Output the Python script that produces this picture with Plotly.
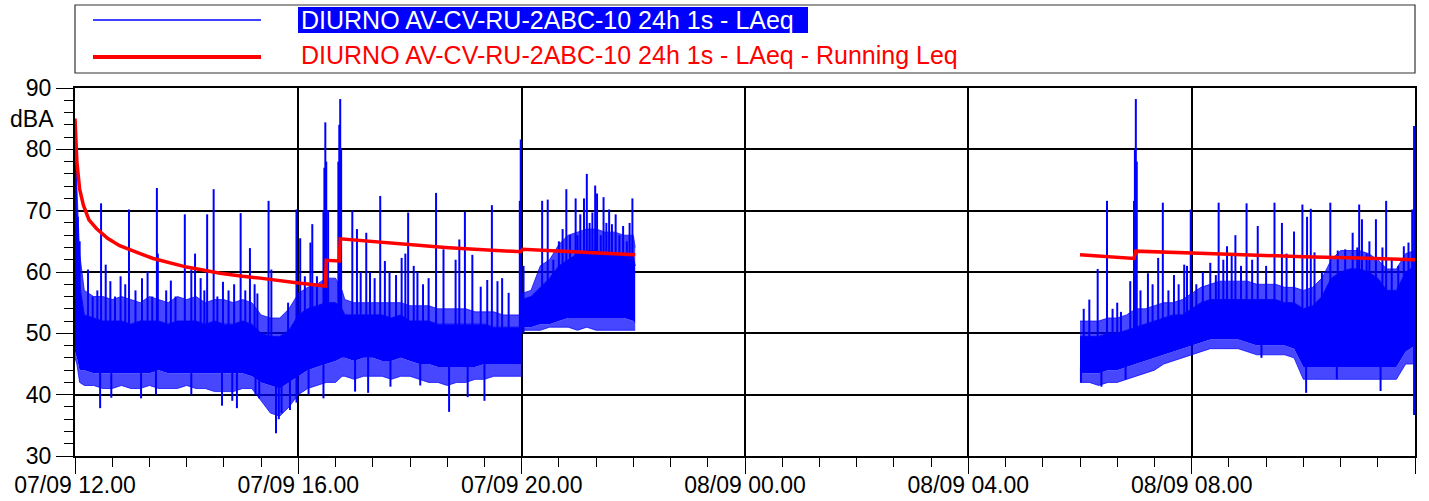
import numpy as np
import pandas as pd
import plotly.graph_objects as go

DAY1, DAY2 = "2021-09-07", "2021-09-08"

# ---------------- Segment 1 (07/09 12:00 - 22:02): LAeq 1s, read as envelopes ----------------
# fr_lo / fr_hi : outer (sparse) fringe of the 1 s trace;  lo / hi : dense core
s1_time = ["12:00", "12:02", "12:05", "12:10", "12:20", "12:30", "12:40", "12:50",
           "13:00", "13:10", "13:20", "13:30", "13:40", "13:50",
           "14:00", "14:10", "14:20", "14:30", "14:40", "14:50",
           "15:00", "15:10", "15:20", "15:30", "15:40", "15:50",
           "16:00", "16:10", "16:20", "16:30", "16:40", "16:47", "16:50",
           "17:00", "17:10", "17:20", "17:30", "17:40", "17:50",
           "18:00", "18:10", "18:20", "18:30", "18:40", "18:50",
           "19:00", "19:10", "19:20", "19:30", "19:40", "19:50",
           "20:00", "20:00", "20:10", "20:20", "20:30", "20:40", "20:50",
           "21:00", "21:10", "21:20", "21:30", "21:40", "21:50",
           "22:00", "22:02"]
s1_frlo = [46, 45, 42, 41.5, 41.5, 41, 41, 41.5,
           41, 41, 41.5, 41, 41, 41,
           41.5, 41, 41, 40.5, 40.5, 40.5,
           41, 41, 39, 37, 36.5, 38,
           40, 41, 41.5, 42, 42, 43, 43,
           42.5, 43, 43, 43, 42.5, 43,
           43, 42.5, 42, 42, 41.5, 42,
           42, 42.5, 42.5, 43, 43, 43,
           43, 50.5, 50.5, 50.5, 51, 51, 51,
           50.5, 51, 50.5, 50.5, 50.5, 50.5,
           50.5, 50.5]
s1_lo = [47, 46, 44, 44, 43.5, 43.5, 43.5, 43.5,
         43.5, 43.5, 43.5, 44, 43.5, 43.5,
         43.5, 43.5, 43.5, 43.5, 43.5, 43.5,
         43.5, 43, 42, 41.5, 41, 42,
         43, 44, 44.5, 45, 45.5, 46, 46,
         45.5, 46, 46, 45.5, 45.5, 46,
         45.5, 45, 45, 44.5, 44.5, 44.5,
         44.5, 44.5, 45, 45, 45, 45,
         45, 51, 51, 51.5, 51.5, 52, 52.5,
         52.5, 52.5, 52.5, 52.5, 52.5, 52.5,
         52, 51.5]
s1_hi = [85, 70, 58, 53, 52.5, 52, 52, 52,
         51.5, 52, 52, 52, 51.5, 52,
         52, 52, 51.5, 52, 51.5, 51.5,
         52, 51.5, 50, 49.5, 49.5, 50.5,
         53, 54, 54.5, 55, 55, 54, 53,
         53, 53, 53, 53, 52.5, 53,
         52, 52, 52, 51.5, 51.5, 51.5,
         51.5, 51.5, 51.5, 51, 51, 51,
         51, 55.5, 56, 57.5, 59, 61, 62,
         63, 63.5, 63.5, 63, 63, 62.5,
         62.5, 61]
s1_frhi = [85, 74, 63, 57, 56, 56, 55.5, 56,
           55.5, 55, 56, 55.5, 55, 56,
           55.5, 56, 55, 55.5, 55.5, 55,
           55.5, 55, 53, 52.5, 52.5, 54,
           56.5, 57.5, 58, 59, 59, 57, 55.5,
           55, 55, 55, 55, 55, 55,
           54.5, 54.5, 54.5, 54, 54, 54,
           54, 53.5, 53.5, 53.5, 53, 53,
           53, 56.5, 57, 61, 62, 64.5, 66,
           66.5, 67, 67, 66.5, 66.5, 66,
           66, 64]

# isolated spikes (time, peak dBA)
sp1_time = ["12:03", "12:05", "12:07", "12:14", "12:19", "12:24", "12:28", "12:33", "12:38", "12:43",
            "12:49", "12:54", "12:58", "13:05", "13:12", "13:18", "13:23", "13:28", "13:29", "13:38",
            "13:43", "13:48", "13:58", "14:05", "14:09", "14:15", "14:19", "14:22", "14:29", "14:33",
            "14:39", "14:45", "14:51", "14:58", "15:03", "15:08", "15:13", "15:16", "15:28", "15:31",
            "15:49", "15:58", "16:02", "16:07", "16:13", "16:15", "16:20", "16:27", "16:28", "16:29",
            "16:30", "16:32", "16:43", "16:44", "16:45", "16:46", "16:58", "17:03", "17:07", "17:13",
            "17:17", "17:22", "17:28", "17:33", "17:38", "17:45", "17:51", "17:55", "17:58", "18:04",
            "18:08", "18:14", "18:20", "18:28", "18:36", "18:49", "18:53", "18:59", "19:07", "19:16",
            "19:23", "19:28", "19:34", "19:39", "19:46", "19:58", "19:59", "20:02", "20:22", "20:28",
            "20:34", "20:40", "20:44", "20:48", "20:52", "20:58", "21:00", "21:03", "21:07", "21:10",
            "21:13", "21:16", "21:19", "21:21", "21:25", "21:28", "21:31", "21:34", "21:37", "21:41",
            "21:45", "21:49", "21:53", "21:56", "21:59"]
sp1_val = [60, 65, 57, 60.4, 56, 57, 71.2, 61.2, 58.5, 56,
           59.3, 58, 70.2, 57, 59, 60.1, 56, 73.7, 63, 57,
           58.6, 56, 69.4, 60.4, 63, 59, 57, 69.4, 73.5, 56,
           58.4, 57, 58, 69.6, 57, 63.9, 58, 56.5, 71.6, 60.4,
           55, 70.2, 65.5, 59.3, 64.8, 67.8, 59.3, 70, 77, 84.4,
           78, 70, 78, 84, 88.2, 80, 70, 67, 60, 66.4,
           60, 59, 72.4, 61.8, 60, 59.5, 62.3, 63, 69.7, 61,
           60, 58, 59, 72.9, 63.7, 62, 65.3, 69.8, 62.8, 57.6,
           58.7, 70.9, 58.5, 59, 56.6, 71.6, 81.6, 61, 71.6, 71.8,
           62, 65, 67, 73.5, 66, 72, 66, 69.4, 72, 76,
           68, 69.7, 74.1, 72.8, 66, 72.2, 68, 70.2, 67.8, 69.4,
           66, 67.5, 65, 68, 72]

# isolated dips (time, minimum dBA)
dp1_time = ["12:27", "12:39", "13:11", "13:27", "14:05", "14:38", "14:49", "14:54", "15:14", "15:18",
            "15:36", "15:39", "15:42", "15:51", "15:58", "16:11", "16:27", "17:01", "17:15", "17:39",
            "18:11", "18:42", "19:02", "19:20"]
dp1_val = [37.8, 39.5, 39.4, 40, 40, 38.2, 39, 37.8, 40, 39.4,
           33.7, 36, 37, 37.5, 38.7, 40, 39.4, 40.5, 40.3, 41.3,
           41.5, 37.2, 39.6, 39]

# ---------------- Segment 2 (08/09 06:00 - 12:00) ----------------
s2_time = ["06:00", "06:10", "06:20", "06:30", "06:40", "06:50",
           "07:00", "07:10", "07:20", "07:30", "07:40", "07:50",
           "08:00", "08:10", "08:20", "08:30", "08:40", "08:50",
           "09:00", "09:10", "09:20", "09:30", "09:40", "09:50",
           "10:00", "10:10", "10:20", "10:30", "10:40", "10:50",
           "11:00", "11:10", "11:20", "11:30", "11:40", "11:50",
           "12:00"]
s2_frlo = [42, 42, 41.5, 42, 42, 42.5,
           43, 43.5, 44, 45, 45.5, 46,
           46.5, 47, 47.5, 47.5, 47.5, 47.5,
           47, 46.5, 46.5, 46.5, 46.5, 46,
           42.5, 42.5, 42.5, 42.5, 42.5, 42.5,
           42.5, 42.5, 42.5, 42.5, 42.5, 45,
           45]
s2_lo = [43.5, 43.5, 43.5, 44, 44, 44.5,
         45, 45.5, 46, 46.5, 47, 47.5,
         48, 48.5, 49, 49, 49, 49,
         48.5, 48, 48, 48, 48, 47.5,
         44.5, 44.5, 44.5, 44.5, 44.5, 44.5,
         44.5, 44.5, 44.5, 44.5, 44.5, 47,
         48]
s2_hi = [49.5, 49.5, 49.5, 50, 50, 50.5,
         51, 51.5, 52, 52.5, 53, 53,
         54, 55, 55.5, 55.5, 55.5, 55.5,
         55.5, 55.5, 55.5, 55.5, 55, 55,
         54, 54.5, 56, 59, 60, 60.5,
         60.5, 60, 59, 57, 57, 60,
         61]
s2_frhi = [52, 52, 52, 52.5, 52.5, 53,
           54, 54, 54.5, 55, 55, 55.5,
           56.5, 57.5, 58, 58.5, 58.5, 58.5,
           58.5, 58, 58, 58, 57.5, 57.5,
           57, 57.5, 59, 62, 63.5, 63.5,
           63.5, 63, 62, 60.5, 60.5, 63,
           63.5]

sp2_time = ["06:04", "06:10", "06:19", "06:29", "06:35", "06:40", "06:44", "06:54", "06:58", "06:59",
            "07:00", "07:01", "07:05", "07:13", "07:18", "07:24", "07:29", "07:35", "07:41", "07:46",
            "07:52", "07:55", "07:59", "08:05", "08:12", "08:20", "08:26", "08:29", "08:34", "08:38",
            "08:43", "08:47", "08:53", "08:59", "09:05", "09:11", "09:20", "09:29", "09:37", "09:42",
            "09:50", "09:59", "10:04", "10:08", "10:12", "10:20", "10:29", "10:37", "10:45", "10:53",
            "10:58", "11:00", "11:03", "11:08", "11:11", "11:18", "11:25", "11:29", "11:35", "11:42",
            "11:48", "11:53", "11:57", "11:59"]
sp2_val = [54, 55.5, 60.5, 71.6, 54, 55, 53.5, 58.5, 71.6, 80,
           88.2, 78, 57, 59.8, 58, 62.3, 71.3, 57, 59.5, 58,
           61.2, 61, 70.2, 58, 60, 61.5, 59.5, 71.3, 62, 64.2,
           63, 66, 61, 71.2, 62, 67.5, 61, 71.3, 68, 63,
           66.6, 71, 69, 70.3, 63.2, 60, 71.3, 63.5, 63.7, 66.4,
           64, 71, 68.6, 63, 65, 68.6, 64, 71.6, 62, 61,
           64.2, 64.8, 70.2, 83.8]

dp2_time = ["06:01", "06:23", "06:49", "09:15", "10:03", "10:36", "11:23", "11:59"]
dp2_val = [42, 41.3, 42.5, 46, 40.3, 42.5, 40.6, 36.7]

# ---------------- Running Leq ----------------
r1_time = ["12:00", "12:02", "12:05", "12:09", "12:15", "12:23", "12:35", "12:48", "13:10", "13:24",
           "14:00", "14:36", "15:00", "15:19", "16:00", "16:29", "16:30", "16:44", "16:45", "17:30",
           "18:38", "19:00", "19:59", "20:01", "21:00", "22:02"]
r1_val = [85, 78, 73.5, 70.9, 68.5, 67.1, 65.5, 64.3, 63, 62.2,
          60.8, 59.8, 59.3, 59.0, 58.2, 57.7, 61.9, 61.8, 65.4, 64.8,
          64.0, 63.8, 63.3, 63.7, 63.2, 62.8]
r2_time = ["06:00", "06:58", "07:00", "08:00", "09:00", "10:00", "11:00", "12:00"]
r2_val = [62.8, 62.2, 63.4, 63.1, 62.7, 62.5, 62.3, 62.0]

y_ticks = [30, 40, 50, 60, 70, 80, 90]

LEG1 = "DIURNO AV-CV-RU-2ABC-10 24h 1s - LAeq"
LEG2 = "DIURNO AV-CV-RU-2ABC-10 24h 1s - LAeq - Running Leq"

BLUE = "#0000FF"
BLUE_FRINGE = "rgba(0,0,255,0.72)"
RED = "#FF0000"
FONT = "Liberation Sans, Arial, sans-serif"


def to_dt(day, hhmm):
    return pd.to_datetime([f"{day} {h}" for h in hhmm])


def fmt(t):
    return t.strftime("%Y-%m-%d %H:%M:%S")


def vlines(day, times, vals, env_t, env_lo, env_hi, up=True):
    et = env_t.values.astype("int64")
    xs, ys = [], []
    for t, v in zip(to_dt(day, times), vals):
        i = int(np.argmin(np.abs(et - t.value)))
        base = env_hi[i] - 1 if up else env_lo[i] + 1
        xs += [fmt(t), fmt(t), None]
        ys += [base, v, None]
    return xs, ys


fig = go.Figure()

segments = [
    (DAY1, s1_time, s1_frlo, s1_lo, s1_hi, s1_frhi, sp1_time, sp1_val, dp1_time, dp1_val),
    (DAY2, s2_time, s2_frlo, s2_lo, s2_hi, s2_frhi, sp2_time, sp2_val, dp2_time, dp2_val),
]
for day, st, frlo, lo, hi, frhi, spt, spv, dpt, dpv in segments:
    t = to_dt(day, st)
    xs = [fmt(v) for v in t]
    fig.add_trace(go.Scatter(x=xs, y=frlo, mode="lines", line=dict(color=BLUE_FRINGE, width=1),
                             hoverinfo="skip"))
    fig.add_trace(go.Scatter(x=xs, y=lo, mode="lines", line=dict(color=BLUE, width=0),
                             fill="tonexty", fillcolor=BLUE_FRINGE, hoverinfo="skip"))
    fig.add_trace(go.Scatter(x=xs, y=hi, mode="lines", line=dict(color=BLUE, width=1),
                             fill="tonexty", fillcolor=BLUE, hoverinfo="skip"))
    fig.add_trace(go.Scatter(x=xs, y=frhi, mode="lines", line=dict(color=BLUE_FRINGE, width=1),
                             fill="tonexty", fillcolor=BLUE_FRINGE, hoverinfo="skip"))
    sx, sy = vlines(day, spt, spv, t, lo, hi, up=True)
    fig.add_trace(go.Scatter(x=sx, y=sy, mode="lines", line=dict(color=BLUE, width=2),
                             hoverinfo="skip"))
    dx, dy = vlines(day, dpt, dpv, t, lo, hi, up=False)
    fig.add_trace(go.Scatter(x=dx, y=dy, mode="lines", line=dict(color=BLUE, width=2),
                             hoverinfo="skip"))

for day, rt, rv in [(DAY1, r1_time, r1_val), (DAY2, r2_time, r2_val)]:
    fig.add_trace(go.Scatter(x=[fmt(v) for v in to_dt(day, rt)], y=rv, mode="lines",
                             line=dict(color=RED, width=3.5), hoverinfo="skip"))

W, H = 1429, 501
ML, MR, MT, MB = 75, 14, 88, 45
PW, PH = W - ML - MR, H - MT - MB


def px(xp):
    return (xp - ML) / PW


def py(yp):
    return 1 + (MT - yp) / PH


shapes = [
    dict(type="rect", xref="paper", yref="paper", x0=px(75), x1=px(1415), y0=py(73), y1=py(5),
         line=dict(color="#333333", width=1.2), fillcolor="white", layer="above"),
    dict(type="line", xref="paper", yref="paper", x0=px(93), x1=px(261), y0=py(20), y1=py(20),
         line=dict(color=BLUE, width=1.5)),
    dict(type="line", xref="paper", yref="paper", x0=px(93), x1=px(261), y0=py(57), y1=py(57),
         line=dict(color=RED, width=4)),
    dict(type="rect", xref="paper", yref="paper", x0=px(298), x1=px(808), y0=py(33), y1=py(7),
         line=dict(width=0), fillcolor=BLUE),
]

annotations = [
    dict(text=LEG1, xref="paper", yref="paper", x=px(299), y=py(20), xanchor="left", yanchor="middle",
         showarrow=False, font=dict(family=FONT, size=25, color="white")),
    dict(text=LEG2, xref="paper", yref="paper", x=px(299), y=py(55), xanchor="left", yanchor="middle",
         showarrow=False, font=dict(family=FONT, size=25, color=RED)),
    dict(text="dBA", xref="paper", yref="y", x=px(56), y=85, xanchor="right", yanchor="middle",
         showarrow=False, font=dict(family=FONT, size=23, color="black")),
]

fig.update_layout(
    width=W, height=H, autosize=False,
    margin=dict(l=ML, r=MR, t=MT, b=MB, pad=0),
    paper_bgcolor="white", plot_bgcolor="white",
    showlegend=False,
    font=dict(family=FONT, size=23, color="black"),
    shapes=shapes, annotations=annotations,
)

fig.update_xaxes(
    type="date", range=[f"{DAY1} 12:00", f"{DAY2} 12:00"], automargin=False,
    tick0=f"{DAY1} 12:00", dtick=4 * 3600 * 1000, tickformat="%d/%m %H.%M",
    ticks="outside", ticklen=16, tickwidth=1.2, tickcolor="black",
    ticklabelstandoff=-9,
    showgrid=True, gridcolor="black", gridwidth=1.5,
    showline=True, linecolor="black", linewidth=2, mirror=True,
    zeroline=False,
    tickfont=dict(family=FONT, size=23, color="black"),
    minor=dict(tick0=f"{DAY1} 12:00", dtick=40 * 60 * 1000, ticks="outside", ticklen=9,
               tickwidth=1, tickcolor="black", showgrid=False),
)
fig.update_yaxes(
    range=[30, 90], tickvals=y_ticks, automargin=False,
    ticks="outside", ticklen=17, tickwidth=1.2, tickcolor="black",
    showgrid=True, gridcolor="black", gridwidth=1.5,
    showline=True, linecolor="black", linewidth=2, mirror=True,
    zeroline=False,
    tickfont=dict(family=FONT, size=23, color="black"),
    minor=dict(dtick=2, ticks="outside", ticklen=9, tickwidth=1, tickcolor="black", showgrid=False),
)

fig.write_html("out.html", config={"displayModeBar": False},
               post_script="document.body.style.margin='0';document.body.style.overflow='hidden';")
